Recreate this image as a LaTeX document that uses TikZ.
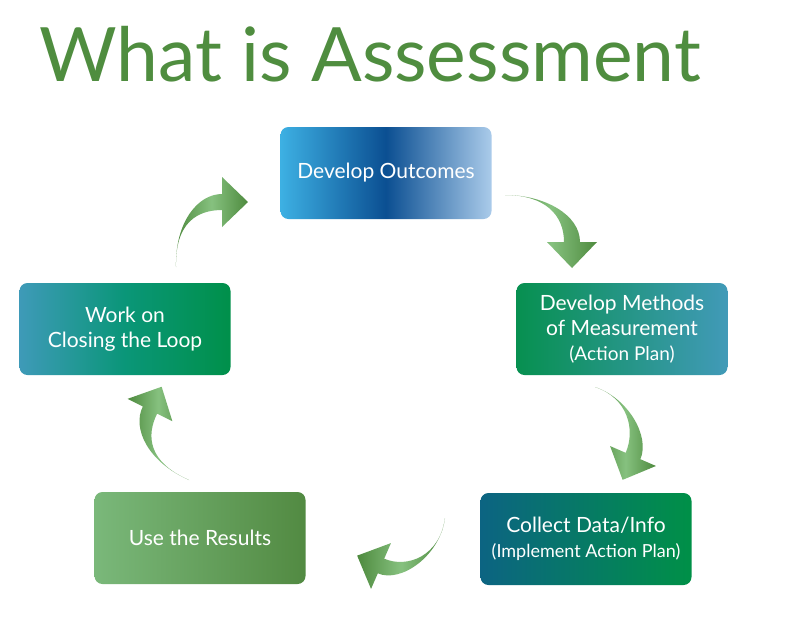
\documentclass[tikz,border=0pt]{standalone}
\usepackage{fontspec}
\setmainfont{Lato}
\usetikzlibrary{calc}

\definecolor{titlegreen}{HTML}{4F8D3F}
\definecolor{arrowdk}{HTML}{4E8A3E}
\definecolor{arrowlt}{HTML}{86C17F}
\definecolor{outcL}{HTML}{3DB0E3}
\definecolor{outcM}{HTML}{0B4F92}
\definecolor{outcR}{HTML}{AACBEA}
\definecolor{methL}{HTML}{079050}
\definecolor{methR}{HTML}{419AB8}
\definecolor{collL}{HTML}{0C6482}
\definecolor{collR}{HTML}{009047}
\definecolor{useL}{HTML}{7AB87A}
\definecolor{useR}{HTML}{528A42}
\definecolor{loopL}{HTML}{3E9AB8}
\definecolor{loopM}{HTML}{0A9678}
\definecolor{loopR}{HTML}{00904A}

% curved arrow: tail, control, control, base of head
\newcommand{\swoosh}[5][]{%
  \path ($(#5)!8pt!90:(#4)$) coordinate (sL)
        ($(#5)!8pt!-90:(#4)$) coordinate (sR)
        ($(#5)!25pt!90:(#4)$) coordinate (bL)
        ($(#5)!25pt!-90:(#4)$) coordinate (bR)
        ($(#5)!-26pt!(#4)$) coordinate (tp);
  \shade[left color=arrowdk, right color=arrowdk, middle color=arrowlt, #1]
    (#2) .. controls (#3) and ($(#4)+(sL)-(#5)$) .. (sL) -- (bL) -- (tp) -- (bR)
    -- (sR) .. controls ($(#4)+(sR)-(#5)$) and (#3) .. (#2) -- cycle;
}

\tikzset{
  box/.style={rounded corners=8pt, minimum width=211pt, minimum height=92pt,
    text=white, align=center, inner sep=0pt, font=\fontsize{21}{25}\selectfont}
}

\begin{document}
\begin{tikzpicture}[x=1pt,y=-1pt]
\useasboundingbox[fill=white] (0,0) rectangle (810,625);

\node[font=\fontsize{75}{80}\selectfont, text=titlegreen, anchor=base west] (title) at (36,81) {What is Assessment};

\node[box, left color=outcL, right color=outcR, middle color=outcM] (outc) at (386,173) {Develop Outcomes};
\node[box, left color=methL, right color=methR] (meth) at (622,329) {Develop Methods\\of Measurement\\{\fontsize{19}{22}\selectfont (Action Plan)}};
\node[box, left color=collL, right color=collR] (coll) at (586,539) {Collect Data/Info\\{\fontsize{18}{22}\selectfont (Implement Action Plan)}};
\node[box, left color=useL, right color=useR] (use) at (200,538) {Use the Results};
\node[box, left color=loopL, right color=loopR, middle color=loopM] (loop) at (125,329) {Work on\\Closing the Loop};

\coordinate (a1t) at (505,195);
\coordinate (a1h) at (572,242);
\coordinate (a2t) at (595,387);
\coordinate (a2h) at (633,456);
\coordinate (a3t) at (445,518);
\coordinate (a3h) at (381,566);
\coordinate (a4t) at (189,480);
\coordinate (a4h) at (150,410);
\coordinate (a5t) at (176,267);
\coordinate (a5h) at (222,202);

\swoosh{a1t}{545,195}{572,215}{a1h}
\swoosh[shading angle=90]{a2t}{628,398}{643,433}{a2h}
\swoosh{a3t}{440,556}{404,576}{a3h}
\swoosh[shading angle=90]{a4t}{148,462}{139,432}{a4h}
\swoosh{a5t}{175,222}{198,202}{a5h}
\end{tikzpicture}
\end{document}
